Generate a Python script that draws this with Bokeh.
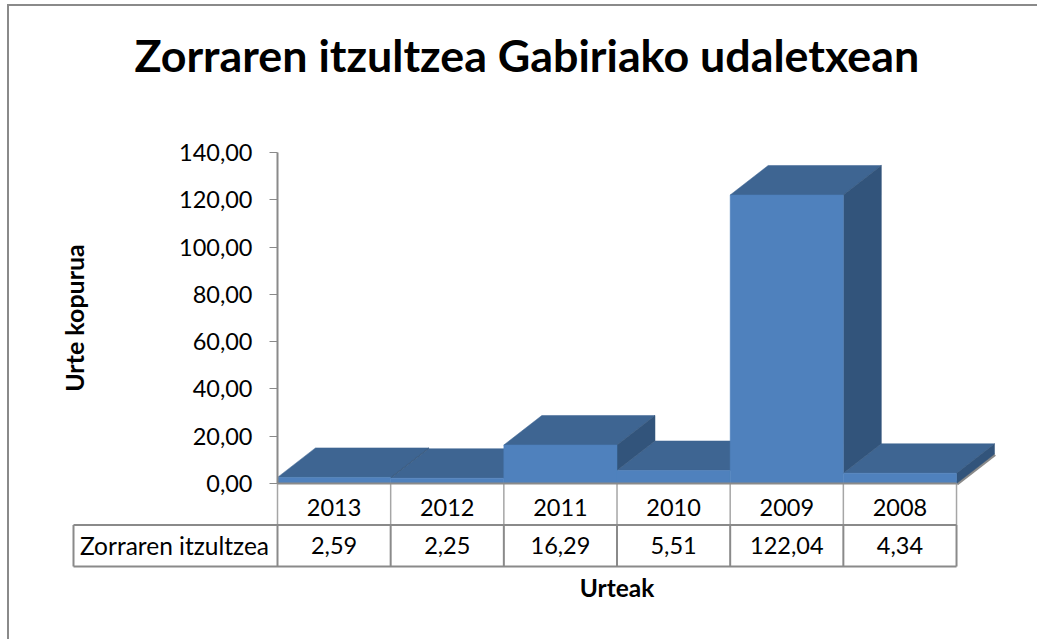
from bokeh.plotting import figure
from bokeh.models import FixedTicker, Range1d, ColumnDataSource
from bokeh.core.properties import value
from bokeh.embed import file_html
from bokeh.resources import INLINE

years = ["2013", "2012", "2011", "2010", "2009", "2008"]
debt = [2.59, 2.25, 16.29, 5.51, 122.04, 4.34]
debt_labels = ["2,59", "2,25", "16,29", "5,51", "122,04", "4,34"]
y_ticks = [0, 20, 40, 60, 80, 100, 120, 140]
y_tick_labels = ["0,00", "20,00", "40,00", "60,00", "80,00", "100,00", "120,00", "140,00"]
series_name = "Zorraren itzultzea"
title_text = "Zorraren itzultzea Gabiriako udaletxean"
x_title = "Urteak"
y_title = "Urte kopurua"

FONT = "Lato"
GREY = "#8a8a8a"
FRONT, TOP, SIDE = "#4f81bd", "#3e6592", "#32547b"

# page geometry
OX, OY = 9, 6          # canvas origin on the page (inside the css border)
X0, XPU = 277, 113.17  # page x of category 0, pixels per category
Y0, YPU = 483, 2.364   # page y of value 0, pixels per unit
FRAME_TOP, PAGE_B, PAGE_R = 100, 639, 1037
DX, DY = 38 / XPU, 29.5 / YPU  # 3-d depth in data units


def ux(px):
    return (px - X0) / XPU


def uy(py):
    return (Y0 - py) / YPU


p = figure(
    frame_width=PAGE_R - OX, frame_height=PAGE_B - FRAME_TOP,
    x_range=Range1d(ux(OX), ux(PAGE_R)), y_range=Range1d(uy(PAGE_B), uy(FRAME_TOP)),
    output_backend="svg", toolbar_location=None,
    min_border=0, min_border_left=0, min_border_right=0, min_border_top=17, min_border_bottom=0,
    title=title_text,
)
p.styles = {"position": "absolute", "left": "7px", "top": "4px",
            "border-left": "2px solid #8a8a8a", "border-top": "2px solid #8a8a8a"}
p.outline_line_color = None
p.grid.visible = False
p.background_fill_color = "white"
p.border_fill_color = "white"

p.title.text_font = FONT
p.title.text_font_style = "bold"
p.title.text_font_size = "44.8px"
p.title.text_color = "black"
p.title.align = "left"
p.title.offset = 125
p.title.standoff = 38

# y axis
ya = p.yaxis[0]
ya.fixed_location = 0
ya.bounds = (0, 140)
ya.ticker = FixedTicker(ticks=y_ticks)
ya.major_label_overrides = dict(zip(y_ticks, y_tick_labels))
ya.major_tick_in = 0
ya.major_tick_out = 8
ya.minor_tick_line_color = None
ya.axis_line_color = GREY
ya.axis_line_width = 2
ya.major_tick_line_color = GREY
ya.major_tick_line_width = 1
ya.major_label_text_font = FONT
ya.major_label_text_font_size = "23.5px"
ya.major_label_text_color = "black"
ya.major_label_standoff = 17
ya.axis_label = y_title
ya.axis_label_text_font = FONT
ya.axis_label_text_font_style = "bold"
ya.axis_label_text_font_size = "25px"
ya.axis_label_text_color = "black"
ya.axis_label_standoff = 87

# x axis: category labels sit in the first table row
xa = p.xaxis[0]
xa.fixed_location = 0
xa.bounds = (0, len(years))
centers = [i + 0.5 for i in range(len(years))]
xa.ticker = FixedTicker(ticks=centers)
xa.major_label_overrides = dict(zip(centers, years))
xa.major_tick_in = 0
xa.major_tick_out = 0
xa.minor_tick_line_color = None
xa.axis_line_color = GREY
xa.axis_line_width = 2
xa.major_label_text_font = FONT
xa.major_label_text_font_size = "23.5px"
xa.major_label_text_color = "black"
xa.major_label_standoff = 15
xa.axis_label = x_title
xa.axis_label_text_font = FONT
xa.axis_label_text_font_style = "bold"
xa.axis_label_text_font_size = "24.5px"
xa.axis_label_text_color = "black"
xa.axis_label_standoff = 54

# 3-d bars: tops and sides from the back (right) to the front (left), then the fronts
n = len(years)
xs, ys, cols = [], [], []
for i in reversed(range(n)):
    v = debt[i]
    l, r = float(i), float(i + 1)
    # the side is only visible above the neighbouring bar
    low = min(v, debt[i + 1]) if i + 1 < n else 0
    xs.append([l, r, r + DX, l + DX]); ys.append([v, v, v + DY, v + DY]); cols.append(TOP)
    xs.append([r, r + DX, r + DX, r]); ys.append([low, low + DY, v + DY, v]); cols.append(SIDE)
for i in range(n):
    v = debt[i]
    l, r = float(i), float(i + 1)
    xs.append([l, r, r, l]); ys.append([0, 0, v, v]); cols.append(FRONT)

# floor edge behind the last bar
p.segment([n], [0], [n + DX], [DY], line_color=GREY, line_width=4.5, level="underlay")
p.patches("xs", "ys", fill_color="cols", line_color="cols", line_width=0.5,
          source=ColumnDataSource(dict(xs=xs, ys=ys, cols=cols)))

# data table below the chart
R1, R2 = uy(524.5), uy(566)
LEFT = ux(73)
p.segment(list(range(n + 1)), [0] * (n + 1), list(range(n + 1)), [R1] * (n + 1),
          line_color="#a6a6a6", line_width=1.5)
p.segment(list(range(n + 1)), [R1] * (n + 1), list(range(n + 1)), [R2] * (n + 1),
          line_color=GREY, line_width=2)
p.segment([LEFT, LEFT, LEFT], [R1, R2, R1], [n, n, LEFT], [R1, R2, R2],
          line_color=GREY, line_width=2)

p.text(centers, [uy(544.5)] * n, text=debt_labels, text_align="center", text_baseline="middle",
       text_font=value(FONT), text_font_size="23.5px", text_color="black")
p.text([ux(174)], [uy(544.5)], text=[series_name], text_align="center", text_baseline="middle",
       text_font=value(FONT), text_font_size="24.5px", text_color="black")

open("out.html", "w").write(file_html(p, INLINE))
